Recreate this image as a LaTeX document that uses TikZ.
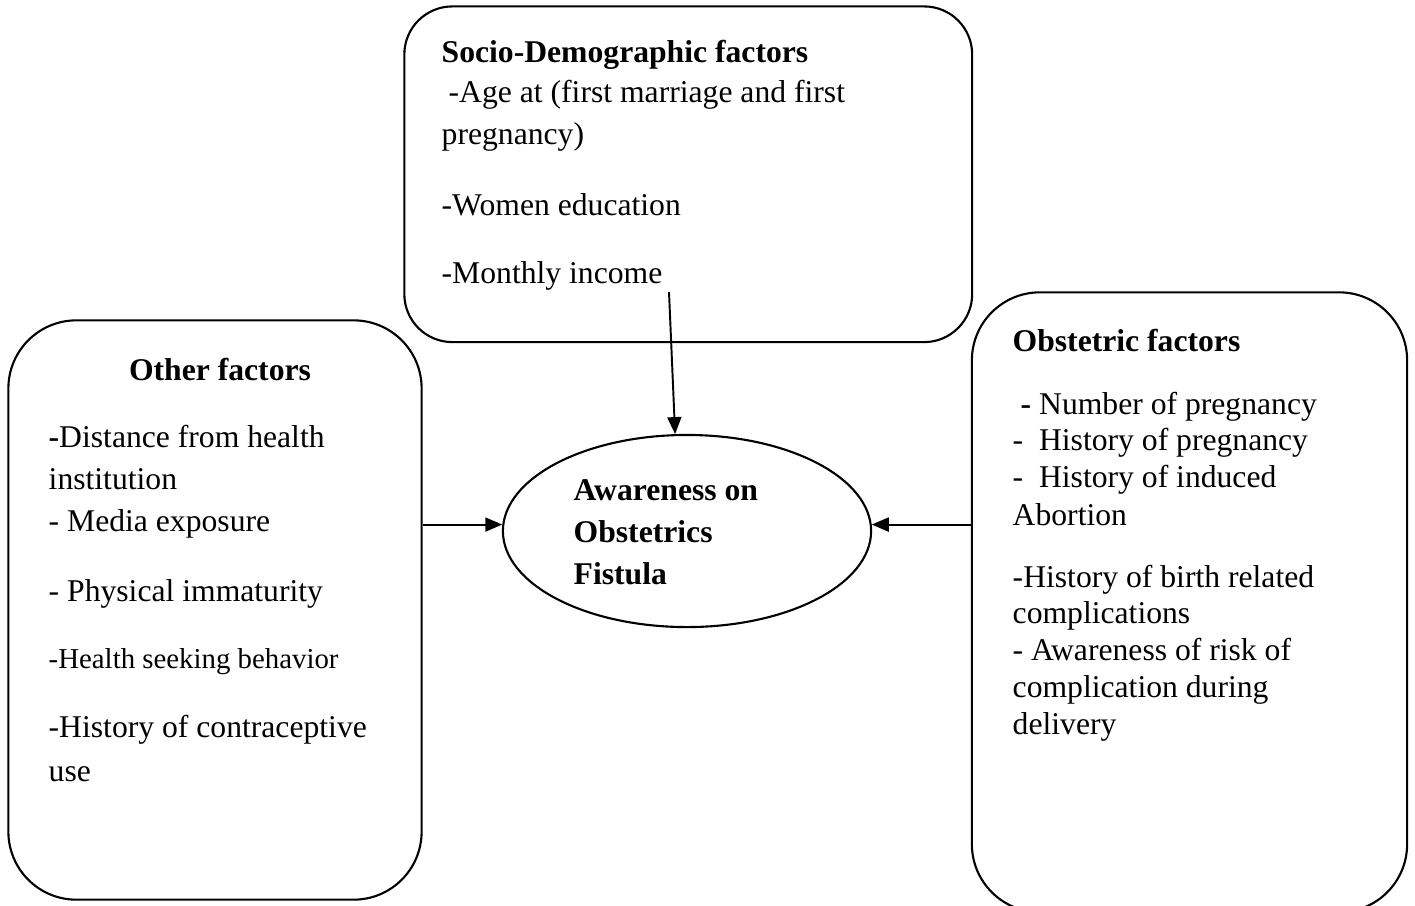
\documentclass[tikz,border=0pt]{standalone}
\usepackage{fontspec}
\setmainfont{Liberation Serif}
\usetikzlibrary{shapes.geometric,arrows.meta,calc}

\tikzstyle{cfw}=[
  x=0.01cm, y=-0.01cm, >={Triangle[length=0.17cm,width=0.14cm]},
  font=\fontsize{9}{11}\selectfont
]
\tikzstyle{factorbox}=[
  draw, line width=0.6pt, rounded corners=0.68cm, inner sep=0pt
]
\tikzstyle{outcome}=[
  draw, ellipse, line width=0.6pt, minimum width=3.68cm, minimum height=1.92cm, inner sep=0pt
]
\tikzstyle{item}=[
  anchor=base west, inner sep=0pt
]
\tikzstyle{head}=[
  item, font=\fontsize{9}{11}\selectfont\bfseries
]
\tikzstyle{flow}=[
  ->, line width=0.55pt
]

\begin{document}
\begin{tikzpicture}[cfw]
    \useasboundingbox (0,0) rectangle (1415,905);

    % boxes
    \node (socio) [factorbox, rounded corners=0.48cm, minimum width=5.675cm, minimum height=3.355cm] at (688.25,174.25) {};
    \node (other) [factorbox, minimum width=4.13cm, minimum height=5.79cm] at (215,610) {};
    \node (obst) [factorbox, minimum width=4.35cm, minimum height=6.195cm] at (1189.5,602.25) {};
    \node (aware) [outcome] at (687,531) {};

    % socio-demographic factors
    \node (sochead) [head] at (441,62) {Socio-Demographic factors};
    \foreach \xpos/\ypos/\txt [count=\i] in {
        448/102/{-Age at (first marriage and first},
        441/144/{pregnancy)},
        441/215/{-Women education},
        441/283/{-Monthly income}} {
        \node (soc\i) [item] at (\xpos,\ypos) {\txt};
    }

    % other factors
    \node (othhead) [head, anchor=base] at (220,380) {Other factors};
    \foreach \ypos/\txt [count=\i] in {
        447/{\textbf{-}Distance from health},
        489/{institution},
        531/{- Media exposure},
        601/{- Physical immaturity},
        737/{-History of contraceptive},
        781/{use}} {
        \node (oth\i) [item] at (48,\ypos) {\txt};
    }
    \node (othhsb) [item, font=\fontsize{8.2}{10}\selectfont] at (48,668) {-Health seeking behavior};

    % obstetric factors
    \node (obshead) [head] at (1012,351) {Obstetric factors};
    \foreach \xpos/\ypos/\txt [count=\i] in {
        1020/414/{\textbf{-} Number of pregnancy},
        1012/450/{-\ \ History of pregnancy},
        1012/487/{-\ \ History of induced},
        1012/525/{Abortion},
        1012/587/{-History of birth related},
        1012/623/{complications},
        1012/660/{- Awareness of risk of},
        1012/697/{complication during},
        1012/734/{delivery}} {
        \node (obs\i) [item] at (\xpos,\ypos) {\txt};
    }

    % outcome
    \foreach \ypos/\txt [count=\i] in {500/{Awareness on}, 542/{Obstetrics}, 584/{Fistula}} {
        \node (awr\i) [head] at (573,\ypos) {\txt};
    }

    % connectors
    \coordinate (inctail) at (669,292);
    \draw [flow] (inctail) -- (aware.97);
    \draw [flow] (other.east |- aware.178) -- (aware.178);
    \draw [flow] (obst.west |- aware.2) -- (aware.2);
\end{tikzpicture}
\end{document}
